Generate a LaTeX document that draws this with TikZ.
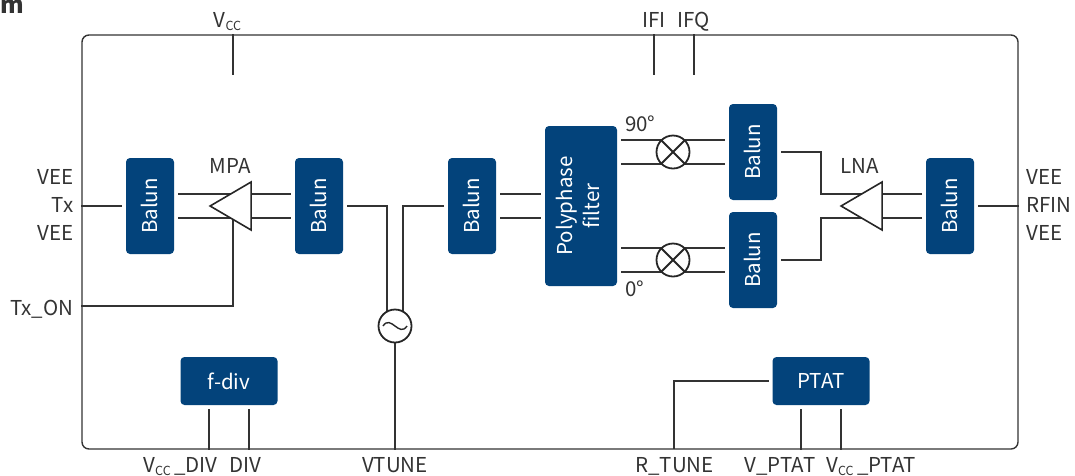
\documentclass[tikz,border=0pt]{standalone}
\usepackage{fontspec}
\setmainfont{Noto Sans CJK JP}
\usetikzlibrary{shapes.geometric,backgrounds}
\definecolor{blokblue}{HTML}{03437B}
\definecolor{inkgray}{HTML}{333333}
\newcommand{\vcclab}{V\raisebox{-3pt}{\fontsize{12.5}{14}\selectfont CC}}
\newcommand{\uptext}[1]{\rotatebox{90}{\raisebox{1pt}{#1}}}
\tikzset{
  blok/.style={fill=blokblue, text=white, rounded corners=4pt, inner sep=0pt, outer sep=4pt},
  baln/.style={blok, minimum width=48pt, minimum height=96pt},
  wideblok/.style={blok, minimum width=97pt, minimum height=48pt},
  pin/.style={text=inkgray, inner sep=0pt, anchor=base},
  pinr/.style={pin, anchor=base east},
  pinl/.style={pin, anchor=base west},
  ampl/.style={draw=black!85, fill=white, line width=1.6pt, isosceles triangle, isosceles triangle stretches,
    shape border rotate=180, inner sep=0pt, minimum width=48pt, minimum height=41pt, anchor=apex},
  ring/.style={draw=black!85, fill=white, line width=1.8pt, circle, inner sep=0pt, minimum size=33pt},
  wire/.style={draw=inkgray, line width=1.4pt}
}
\begin{document}
\begin{tikzpicture}[x=1pt, y=-1pt, font=\fontsize{20.5}{24}\selectfont]
  \useasboundingbox (0,0) rectangle (1075,475);
  \node[baln] (balna) at (150,206) {\uptext{Balun}};
  \node[baln] (balnb) at (319,206) {\uptext{Balun}};
  \node[baln] (balnc) at (472,206) {\uptext{Balun}};
  \node[baln] (balnd) at (753,152) {\uptext{Balun}};
  \node[baln] (balne) at (753,260) {\uptext{Balun}};
  \node[baln] (balnf) at (950,206) {\uptext{Balun}};
  \node[blok, minimum width=72pt, minimum height=160pt] (poly) at (581,206)
    {\uptext{\fontsize{20.5}{27}\selectfont\begin{tabular}{@{}c@{}}Polyphase\\filter\end{tabular}}};
  \node[wideblok] (fdiv) at (229,381) {f-div};
  \node[wideblok] (ptat) at (821,381) {PTAT};
  \node[ampl] (mpa) at (208,206) {};
  \node[ampl] (lna) at (839,206) {};
  \node[ring] (mixa) at (673,152) {};
  \node[ring] (mixb) at (673,260) {};
  \node[ring] (osc) at (395,326) {};
  \foreach \m in {mixa,mixb}
    \draw[draw=black!85, line width=1.8pt] (\m.45) -- (\m.225) (\m.135) -- (\m.315);
  \draw[draw=black!85, line width=1.4pt] ([xshift=-12pt]osc.center)
    .. controls +(8pt,12pt) and +(-8pt,-12pt) .. ([xshift=12pt]osc.center);

  \coordinate (vcct) at (233,75);
  \coordinate (ifit) at (654,75);
  \coordinate (ifqt) at (694,75);
  \coordinate (txon) at (233,306);
  \coordinate (lnaup) at (821,194);
  \coordinate (lnadn) at (821,218);
  \coordinate (rtun) at (674,449);
  \coordinate (vcda) at (209,409);
  \coordinate (vcdb) at (249,409);
  \coordinate (vpta) at (801,409);
  \coordinate (vptb) at (841,409);
  \begin{scope}[on background layer]
    \node[draw=inkgray, line width=1.4pt, rounded corners=7pt, minimum width=936pt, minimum height=414pt] (chip) at (550,242) {};
    \draw[wire] (vcct |- chip.north) -- (vcct);
    \draw[wire] (ifit |- chip.north) -- (ifit);
    \draw[wire] (ifqt |- chip.north) -- (ifqt);
    \draw[wire] (balna.west) -- (balna.west -| chip.west);
    \draw[wire] (balnf.east) -- (balnf.east -| chip.east);
    \draw[wire] (chip.west |- txon) -- (txon) -- (mpa.center -| txon);
    \draw[wire] (osc) -- (osc |- chip.south);
    \foreach \s in {12pt,-12pt} {
      \draw[wire] ([yshift=\s]balna.east) -- ([yshift=\s]balnb.west);
      \draw[wire] ([yshift=\s]balnc.east) -- ([yshift=\s]poly.west);
      \draw[wire] ([yshift=\s]balnd.west -| poly.east) -- ([yshift=\s]balnd.west);
      \draw[wire] ([yshift=\s]balne.west -| poly.east) -- ([yshift=\s]balne.west);
      \draw[wire] ([yshift=\s]balnf.west) -- ([yshift=\s]balnf.west -| lna.center);
    }
    \draw[wire] (balnb.east) -| ([xshift=-8pt]osc.center);
    \draw[wire] (balnc.west) -| ([xshift=8pt]osc.center);
    \draw[wire] (balnd.east) -| (lnaup) -- (lnaup -| lna.center);
    \draw[wire] (balne.east) -| (lnadn) -- (lnadn -| lna.center);
    \draw[wire] (ptat.west) -| (rtun);
    \foreach \c/\b in {vcda/fdiv,vcdb/fdiv,vpta/ptat,vptb/ptat}
      \draw[wire] (\c) -- (\c |- chip.south);
  \end{scope}

  \node[pin] (lbvcc) at (227.5,27.5) {\vcclab};
  \node[pin] (lbifi) at (654,27.5) {IFI};
  \node[pin] (lbifq) at (694,27.5) {IFQ};
  \node[pin] (lbmpa) at (230,173) {MPA};
  \node[pin] (lblna) at (860,173) {LNA};
  \node[pinl] (lbnin) at (625,131) {90°};
  \node[pinl] (lbzer) at (625,296) {0°};
  \node[pinr] (lbvea) at (73.5,184) {VEE};
  \node[pinr] (lbtx) at (73.5,212) {Tx};
  \node[pinr] (lbveb) at (73.5,240) {VEE};
  \node[pinr] (lbton) at (73.5,315) {Tx\_ON};
  \node[pinl] (lbvec) at (1026,184) {VEE};
  \node[pinl] (lbrf) at (1026,212) {RFIN};
  \node[pinl] (lbved) at (1026,240) {VEE};
  \node[pin] (lbvdv) at (180.5,472) {\vcclab\,\_DIV};
  \node[pin] (lbdiv) at (245.5,472) {DIV};
  \node[pin] (lbvtn) at (395,472) {VTUNE};
  \node[pin] (lbrtn) at (674.5,472) {R\_TUNE};
  \node[pin] (lbvpt) at (780,472) {V\_PTAT};
  \node[pin] (lbvcp) at (871,472) {\vcclab\,\_PTAT};
  \node[pinr, font=\fontsize{24}{26}\selectfont\bfseries] (lbcut) at (24,13) {m};
\end{tikzpicture}
\end{document}
